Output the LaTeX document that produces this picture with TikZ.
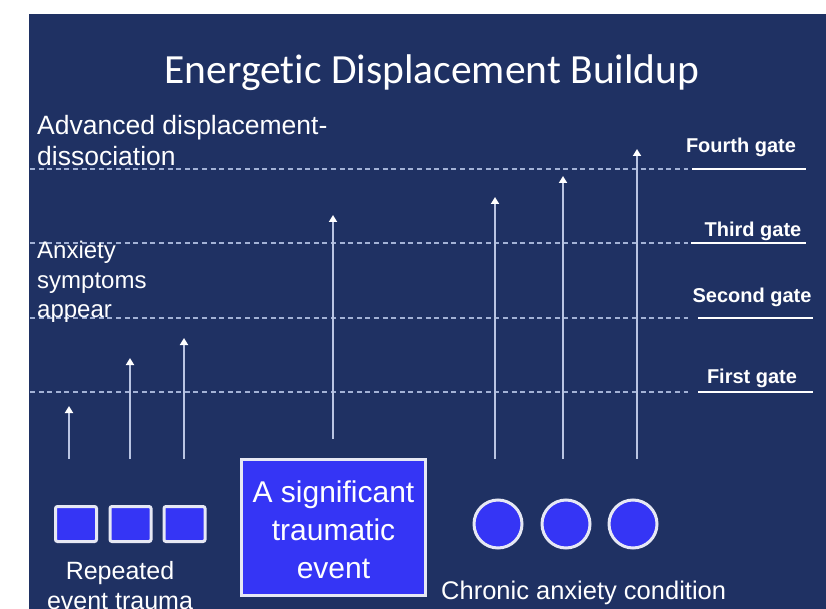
\documentclass[tikz,border=0pt]{standalone}
\usepackage{fontspec}
\setmainfont{Liberation Sans}
\newfontfamily\titlefont[Ligatures={NoCommon}]{Carlito}
\usetikzlibrary{arrows.meta}
\definecolor{bgnavy}{HTML}{1F3163}
\definecolor{boxblue}{HTML}{3535F5}
\definecolor{dashcol}{HTML}{A3B2D6}
\definecolor{arrowcol}{HTML}{B9C4E2}
\definecolor{rimcol}{HTML}{E6E8F4}
\tikzset{
  gateline/.style={draw=dashcol, line width=1.4pt, dash pattern=on 5pt off 3.6pt},
  gateunder/.style={draw=white, line width=2pt},
  gatelabel/.style={text=white, font=\bfseries\fontsize{20}{24}\selectfont, inner sep=0pt, anchor=base},
  risearrow/.style={draw=arrowcol, line width=2pt, -{Triangle[width=8pt,length=7pt,fill=white,color=white]}},
  smallsq/.style={draw=rimcol, fill=boxblue, line width=3pt, rounded corners=2pt, minimum width=41pt, minimum height=35pt, inner sep=0pt},
  bigbox/.style={draw=rimcol, fill=boxblue, line width=3pt, minimum width=184pt, minimum height=136pt, inner sep=0pt, text=white, align=center, font=\fontsize{30}{38}\selectfont},
  dot/.style={circle, draw=rimcol, fill=boxblue, line width=3pt, minimum size=48pt, inner sep=0pt},
  sidetext/.style={text=white, inner sep=0pt, align=left},
  captext/.style={text=white, inner sep=0pt, align=center, font=\fontsize{25}{30}\selectfont}
}
\begin{document}
\begin{tikzpicture}[x=1pt,y=-1pt]
\useasboundingbox (0,0) rectangle (826,609);
\fill[bgnavy] (29,14) rectangle (826,609);

% title
\node[text=white, inner sep=0pt, font=\titlefont\fontsize{41.5}{46}\selectfont] (title) at (432,73) {Energetic Displacement Buildup};

% dashed gate lines
\coordinate (d4a) at (30,169); \coordinate (d4b) at (688,169);
\coordinate (d3a) at (30,243); \coordinate (d3b) at (688,243);
\coordinate (d2a) at (30,318); \coordinate (d2b) at (688,318);
\coordinate (d1a) at (30,392); \coordinate (d1b) at (688,392);
\draw[gateline] (d4a) -- (d4b);
\draw[gateline] (d3a) -- (d3b);
\draw[gateline] (d2a) -- (d2b);
\draw[gateline] (d1a) -- (d1b);

% gate underlines and labels
\coordinate (u4a) at (692,169); \coordinate (u4b) at (806,169);
\coordinate (u3a) at (691,243); \coordinate (u3b) at (806,243);
\coordinate (u2a) at (698,318); \coordinate (u2b) at (813,318);
\coordinate (u1a) at (698,392); \coordinate (u1b) at (813,392);
\draw[gateunder] (u4a) -- (u4b);
\draw[gateunder] (u3a) -- (u3b);
\draw[gateunder] (u2a) -- (u2b);
\draw[gateunder] (u1a) -- (u1b);
\node[gatelabel] (g4) at (741,153) {Fourth gate};
\node[gatelabel] (g3) at (753,237) {Third gate};
\node[gatelabel] (g2) at (752,302) {Second gate};
\node[gatelabel] (g1) at (752,383) {First gate};

% side texts
\node[sidetext, anchor=north west, font=\fontsize{26.5}{31}\selectfont] (adv) at (37,115.5) {Advanced displacement-\\dissociation};
\node[sidetext, anchor=north west, font=\fontsize{24}{29.5}\selectfont] (anx) at (37,241) {Anxiety\\symptoms\\appear};

% arrows
\coordinate (a1s) at (69,459);  \coordinate (a1e) at (69,406);
\coordinate (a2s) at (130,459); \coordinate (a2e) at (130,358);
\coordinate (a3s) at (184,459); \coordinate (a3e) at (184,338);
\coordinate (a4s) at (333,439); \coordinate (a4e) at (333,215);
\coordinate (a5s) at (495,459); \coordinate (a5e) at (495,197);
\coordinate (a6s) at (563,459); \coordinate (a6e) at (563,176);
\coordinate (a7s) at (637,459); \coordinate (a7e) at (637,149);
\draw[risearrow] (a1s) -- (a1e);
\draw[risearrow] (a2s) -- (a2e);
\draw[risearrow] (a3s) -- (a3e);
\draw[risearrow] (a4s) -- (a4e);
\draw[risearrow] (a5s) -- (a5e);
\draw[risearrow] (a6s) -- (a6e);
\draw[risearrow] (a7s) -- (a7e);

% squares
\node[smallsq] (sq1) at (76,524) {};
\node[smallsq] (sq2) at (130.5,524) {};
\node[smallsq] (sq3) at (184.5,524) {};
\node[captext] (rep) at (120,586) {Repeated\\event trauma};

% big box
\node[bigbox] (big) at (333.5,527.5) {};
\node[text=white, inner sep=0pt, align=center, font=\fontsize{30}{38}\selectfont] (bigtext) at (333.5,530) {A significant\\traumatic\\event};

% circles
\node[dot] (c1) at (498,524) {};
\node[dot] (c2) at (566,524) {};
\node[dot] (c3) at (633,524) {};
\node[text=white, inner sep=0pt, anchor=base west, font=\fontsize{25.5}{30}\selectfont] (chr) at (441,599) {Chronic anxiety condition};
\end{tikzpicture}
\end{document}
